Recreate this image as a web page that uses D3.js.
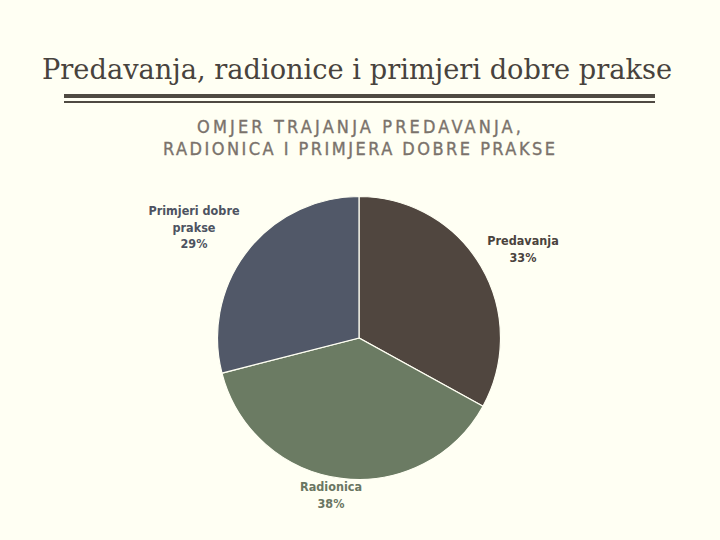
<!DOCTYPE html>
<html>
<head>
<meta charset="utf-8">
<script src="https://cdn.jsdelivr.net/npm/d3@7"></script>
<style>
  html, body { margin: 0; padding: 0; background: #fffff3; }
</style>
</head>
<body>
<div id="canvas"></div>
<script>
const categories = ["Predavanja", "Radionice", "Primjeri dobre prakse"];
const labels = [["Predavanja"], ["Radionica"], ["Primjeri dobre", "prakse"]];
const values = [33, 38, 29];
const colors = ["#50463f", "#6b7b63", "#515868"];
const labelColors = ["#4a433d", "#6a7662", "#4d5361"];
const chartTitle = ["OMJER TRAJANJA PREDAVANJA,", "RADIONICA I PRIMJERA DOBRE PRAKSE"];

const width = 720;
const height = 540;

const svg = d3.select("#canvas").append("svg")
    .attr("width", width)
    .attr("height", height);

svg.append("rect").attr("width", width).attr("height", height).attr("fill", "#fffff3");

// slide title
svg.append("text")
    .attr("x", 357).attr("y", 79)
    .attr("text-anchor", "middle")
    .attr("font-family", "DejaVu Serif, serif")
    .attr("font-size", 27)
    .attr("textLength", 630)
    .attr("lengthAdjust", "spacingAndGlyphs")
    .attr("fill", "#48433d")
    .text("Predavanja, radionice i primjeri dobre prakse");

svg.append("rect").attr("x", 64).attr("y", 94).attr("width", 591).attr("height", 4).attr("fill", "#4f4a42");
svg.append("rect").attr("x", 64).attr("y", 101).attr("width", 591).attr("height", 2).attr("fill", "#4f4a42");

// chart title
const titleLen = [324, 392];
svg.append("g").selectAll("text").data(chartTitle).enter().append("text")
    .attr("x", 359)
    .attr("y", (d, i) => 133 + i * 22)
    .attr("text-anchor", "middle")
    .attr("font-family", "DejaVu Sans Condensed, sans-serif")
    .attr("font-stretch", "condensed")
    .attr("font-size", 18)
    .attr("textLength", (d, i) => titleLen[i])
    .attr("lengthAdjust", "spacing")
    .attr("fill", "#7a726b")
    .attr("stroke", "#7a726b")
    .attr("stroke-width", 0.35)
    .text(d => d);

const cx = 359, cy = 338, r = 141.5;
const g = svg.append("g").attr("transform", `translate(${cx},${cy})`);

const pie = d3.pie().sort(null).value(d => d);
const arcs = pie(values);
const arc = d3.arc().innerRadius(0).outerRadius(r);

g.selectAll("path").data(arcs).enter().append("path")
    .attr("d", arc)
    .attr("fill", (d, i) => colors[i])
    .attr("stroke", "#fffff3")
    .attr("stroke-width", 1.2);

// label positions (outside the pie)
const lblPos = [[164, -93], [-28, 153], [-165, -123]];

const lg = g.selectAll("g.lbl").data(arcs).enter().append("g")
    .attr("class", "lbl")
    .attr("transform", (d, i) => `translate(${lblPos[i][0]},${lblPos[i][1]})`);

lg.each(function (d, i) {
    const lines = labels[i].concat([Math.round(d.value) + "%"]);
    d3.select(this).selectAll("text").data(lines).enter().append("text")
        .attr("x", 0)
        .attr("y", (t, j) => j * 16.5)
        .attr("text-anchor", "middle")
        .attr("font-family", "DejaVu Sans Condensed, sans-serif")
        .attr("font-weight", "bold")
        .attr("font-size", 12.5)
        .attr("fill", labelColors[i])
        .text(t => t);
});
</script>
</body>
</html>
